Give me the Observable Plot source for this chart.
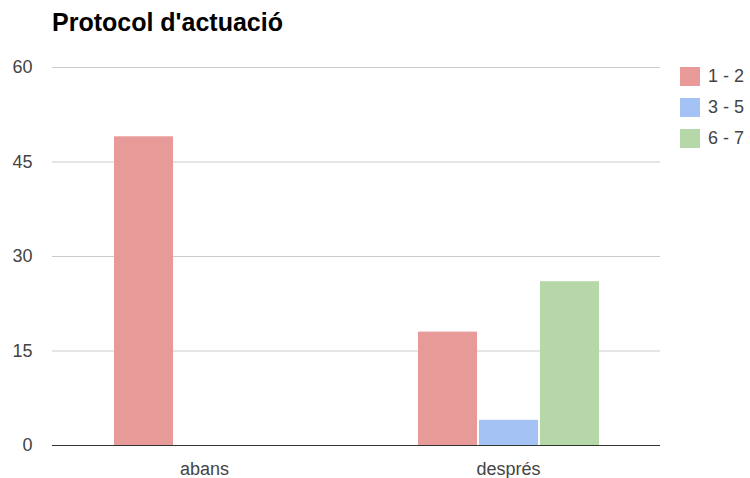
<!DOCTYPE html>
<html>
<head>
<meta charset="utf-8">
<script src="https://cdn.jsdelivr.net/npm/d3@7"></script>
<script src="https://cdn.jsdelivr.net/npm/@observablehq/plot@0.6"></script>
<style>
  html, body { margin: 0; padding: 0; background: #fff; }
  #wrap { position: relative; width: 750px; height: 478px; font-family: "Liberation Sans", Arial, sans-serif; }
  #title { position: absolute; left: 52px; top: 7px; font-size: 25px; line-height: 30px; font-weight: bold; color: #000; white-space: nowrap; }
  #legend { position: absolute; left: 680px; top: 67px; }
  .item { display: flex; align-items: center; height: 19px; margin-bottom: 12px; font-size: 18px; color: #444; }
  .sw { width: 20px; height: 19px; margin-right: 8px; }
  #chart { position: absolute; left: 0; top: 0; }
</style>
</head>
<body>
<div id="wrap">
  <div id="chart"></div>
  <div id="title">Protocol d'actuació</div>
  <div id="legend"></div>
</div>
<script>
const groups = ["abans", "després"];
const series = ["1 - 2", "3 - 5", "6 - 7"];
const abansValues = [49, 0, 0];
const despresValues = [18, 4, 26];
const colors = ["#e89a99", "#a4c2f4", "#b6d7a8"];
const yTicks = [0, 15, 30, 45, 60];

const valuesByGroup = [abansValues, despresValues];
const data = [];
groups.forEach((g, gi) => series.forEach((s, si) => data.push({group: g, series: s, value: valuesByGroup[gi][si]})));

const chart = Plot.plot({
  width: 750,
  height: 478,
  marginTop: 67,
  marginBottom: 33,
  marginLeft: 52,
  marginRight: 90,
  style: {fontFamily: "'Liberation Sans', Arial, sans-serif", fontSize: "18px", color: "#444", background: "transparent"},
  fx: {domain: groups, paddingInner: 0, paddingOuter: 0, label: null, axis: "bottom", tickSize: 0, tickPadding: 17},
  x: {domain: series, paddingInner: 0, paddingOuter: 0.99, axis: null},
  y: {domain: [0, 60], ticks: yTicks, tickSize: 0, tickPadding: 20, label: null},
  color: {domain: series, range: colors},
  marks: [
    Plot.ruleY(yTicks.filter(d => d > 0), {stroke: "#cccccc", strokeOpacity: 1}),
    Plot.barY(data, {fx: "group", x: "series", y: "value", fill: "series", insetLeft: 1, insetRight: 1}),
    Plot.ruleY([0], {stroke: "#333", strokeWidth: 1})
  ]
});
document.getElementById("chart").appendChild(chart);

const legend = document.getElementById("legend");
series.forEach((s, i) => {
  const item = document.createElement("div");
  item.className = "item";
  const sw = document.createElement("div");
  sw.className = "sw";
  sw.style.background = chart.scale("color").apply(s);
  const label = document.createElement("span");
  label.textContent = s;
  item.appendChild(sw);
  item.appendChild(label);
  legend.appendChild(item);
});
</script>
</body>
</html>
